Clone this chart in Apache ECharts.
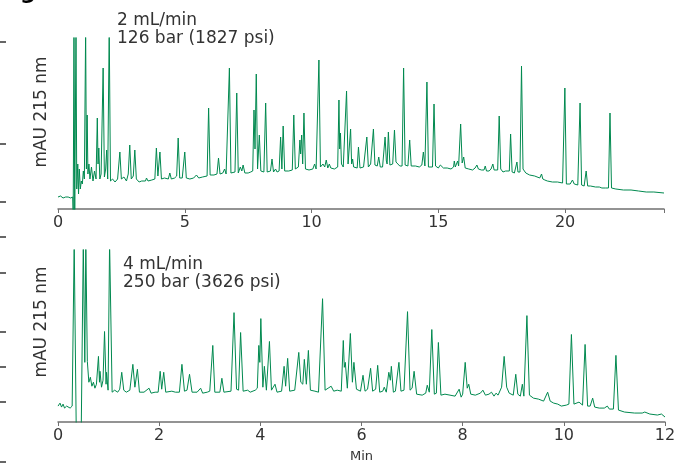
<!DOCTYPE html>
<html><head><meta charset="utf-8">
<script src="https://cdn.jsdelivr.net/npm/echarts@6/dist/echarts.min.js"></script>
<style>html,body{margin:0;padding:0;background:#fff}#c{width:679px;height:464px}</style>
</head><body><div id="c"></div>
<script>
// Top chromatogram (2 mL/min), [time (min), signal]
const topTrace = [[0,12],[0.1,13],[0.2,11],[0.3,12],[0.4,12],[0.5,11],[0.58,12],
[0.6,-5],[0.63,180],[0.66,-5],[0.69,-5],[0.71,180],[0.74,20],[0.78,45],[0.81,15],[0.84,40],[0.88,20],[0.92,28],[0.96,25],[1.0,38],[1.04,30],
[1.09,180],[1.12,40],[1.15,94],[1.18,35],[1.22,45],[1.26,30],[1.32,42],[1.38,28],[1.44,38],[1.5,30],
[1.55,91],[1.58,45],[1.61,61],[1.65,30],[1.7,35],[1.78,141],[1.83,32],[1.88,40],[1.92,59],[1.96,30],
[2.02,180],[2.07,28],[2.15,30],[2.25,27],[2.35,30],[2.44,57],[2.5,30],[2.6,32],[2.7,28],[2.77,35],[2.83,64],[2.89,30],[2.97,33],[3.03,59],[3.09,30],[3.2,27],[3.3,28],[3.45,28],[3.49,31],[3.55,28],[3.7,29],[3.82,30],[3.88,61],[3.94,33],[4.02,57],[4.08,30],[4.2,31],[4.35,30],[4.41,36],[4.47,30],[4.6,31],[4.68,33],[4.74,71],[4.8,31],[4.9,31],[5.0,57],[5.06,31],[5.2,30],[5.35,31],[5.46,34],[5.55,31],[5.7,32],[5.88,33],[5.94,101],[6.0,34],[6.15,34],[6.27,35],[6.33,51],[6.39,35],[6.5,36],[6.57,40],[6.63,35],[6.7,36],[6.76,141],[6.82,36],[6.98,37],[7.05,116],[7.11,36],[7.19,42],[7.25,38],[7.3,44],[7.37,36],[7.5,36],[7.6,37],[7.68,38],[7.73,99],[7.77,60],[7.82,135],[7.87,40],[7.94,74],[8.0,38],[8.12,37],[8.19,106],[8.25,37],[8.38,38],[8.44,50],[8.5,37],[8.58,40],[8.64,37],[8.72,38],[8.78,72],[8.83,40],[8.88,83],[8.94,38],[9.1,38],[9.24,39],[9.30,94],[9.36,40],[9.48,42],[9.54,69],[9.57,55],[9.61,74],[9.65,45],[9.70,96],[9.76,40],[9.9,39],[10.05,40],[10.12,45],[10.18,40],[10.23,41],[10.29,149],[10.35,42],[10.45,45],[10.52,42],[10.58,49],[10.64,41],[10.7,45],[10.76,41],[10.9,40],[11.03,42],[11.08,109],[11.11,60],[11.14,76],[11.18,45],[11.25,42],[11.32,43],[11.38,118],[11.44,45],[11.5,43],[11.54,80],[11.58,45],[11.62,50],[11.66,42],[11.8,41],[11.85,62],[11.91,41],[12.05,42],[12.12,44],[12.18,72],[12.24,42],[12.33,45],[12.37,46],[12.44,80],[12.5,44],[12.59,43],[12.65,52],[12.71,42],[12.8,42],[12.85,44],[12.90,72],[12.95,48],[12.98,45],[13.03,77],[13.09,44],[13.2,45],[13.27,79],[13.33,47],[13.4,45],[13.48,43],[13.57,43],[13.63,141],[13.69,44],[13.8,43],[13.87,69],[13.93,43],[14.1,43],[14.25,42],[14.35,44],[14.41,57],[14.47,43],[14.55,127],[14.61,42],[14.77,42],[14.83,105],[14.89,43],[15.0,41],[15.08,44],[15.2,41],[15.35,41],[15.5,40],[15.6,42],[15.63,48],[15.67,42],[15.74,43],[15.76,48],[15.8,43],[15.88,85],[15.94,46],[16.0,52],[16.06,41],[16.2,40],[16.35,39],[16.45,41],[16.52,44],[16.58,40],[16.7,39],[16.8,39],[16.85,43],[16.9,38],[17.0,38],[17.08,40],[17.15,45],[17.2,39],[17.34,39],[17.40,93],[17.46,40],[17.55,37],[17.65,38],[17.8,38],[17.85,75],[17.91,37],[18.0,36],[18.06,38],[18.10,47],[18.14,37],[18.22,37],[18.28,143],[18.34,40],[18.45,36],[18.6,34],[18.8,33],[19.0,31],[19.07,35],[19.12,30],[19.2,29],[19.24,31],[19.3,28],[19.5,27],[19.7,27],[19.9,26],[19.99,121],[20.05,25],[20.2,25],[20.29,29],[20.36,25],[20.5,24],[20.59,106],[20.65,24],[20.75,23],[20.83,38],[20.89,23],[21.0,23],[21.2,22],[21.35,22],[21.4,24],[21.45,21],[21.6,21],[21.71,21],[21.77,96],[21.83,21],[22.0,20],[22.3,19],[22.6,19],[22.9,18],[23.2,17],[23.5,17],[23.9,16]];

// Bottom chromatogram (4 mL/min), [time (min), signal]
const bottomTrace = [[0,16],[0.04,19],[0.07,15],[0.1,18],[0.13,14],[0.17,16],[0.2,18],[0.24,14],[0.28,16],[0.31,17],
[0.32,180],[0.36,-5],[0.46,-5],[0.5,180],[0.53,60],[0.55,180],[0.58,61],[0.61,40],[0.64,45],[0.67,36],[0.7,40],[0.73,34],[0.76,38],[0.8,66],[0.82,40],[0.83,51],[0.86,35],[0.89,42],[0.92,91],[0.95,38],[0.96,50],[0.99,32],
[1.02,180],[1.04,180],[1.07,30],[1.12,32],[1.18,30],[1.22,33],[1.26,50],[1.3,32],[1.35,30],[1.42,32],[1.48,58],[1.52,35],[1.57,53],[1.61,30],[1.7,30],[1.8,34],[1.84,29],[1.92,30],[1.98,30],[2.02,51],[2.05,33],[2.09,50],[2.13,30],[2.25,31],[2.32,30],[2.4,30],[2.45,58],[2.5,31],[2.55,32],[2.6,48],[2.65,30],[2.75,30],[2.82,34],[2.86,29],[2.95,30],[3.0,31],[3.06,77],[3.1,30],[3.2,30],[3.24,44],[3.28,30],[3.42,31],[3.48,110],[3.53,33],[3.57,32],[3.61,90],[3.66,31],[3.75,32],[3.8,30],[3.9,32],[3.94,34],[3.97,77],[3.99,60],[4.01,104],[4.05,35],[4.08,56],[4.12,32],[4.18,81],[4.22,32],[4.29,38],[4.33,30],[4.42,31],[4.47,56],[4.5,36],[4.54,64],[4.58,31],[4.68,32],[4.76,70],[4.8,40],[4.84,38],[4.87,63],[4.91,38],[4.95,72],[4.99,32],[5.08,31],[5.15,30],[5.23,124],[5.28,32],[5.34,34],[5.4,36],[5.45,31],[5.52,32],[5.6,31],[5.64,82],[5.66,55],[5.68,60],[5.72,34],[5.78,89],[5.82,40],[5.85,60],[5.9,33],[5.98,31],[6.03,47],[6.07,31],[6.12,33],[6.18,54],[6.22,31],[6.28,33],[6.32,57],[6.36,30],[6.42,31],[6.45,35],[6.49,30],[6.54,50],[6.57,42],[6.59,56],[6.63,30],[6.67,31],[6.74,60],[6.78,31],[6.84,32],[6.91,111],[6.96,32],[7.0,34],[7.04,51],[7.09,28],[7.2,27],[7.27,29],[7.30,37],[7.34,30],[7.39,93],[7.44,28],[7.48,29],[7.52,80],[7.57,27],[7.65,28],[7.75,27],[7.85,26],[7.93,33],[7.97,25],[8.0,28],[8.05,60],[8.09,34],[8.12,38],[8.16,28],[8.25,27],[8.35,29],[8.4,32],[8.45,27],[8.52,28],[8.57,30],[8.62,26],[8.66,29],[8.7,27],[8.77,35],[8.82,66],[8.87,35],[8.92,29],[9.0,27],[9.05,48],[9.09,28],[9.14,26],[9.18,38],[9.21,26],[9.27,107],[9.32,27],[9.4,24],[9.5,23],[9.6,21],[9.68,30],[9.73,21],[9.8,19],[9.88,18],[9.95,16],[10.05,17],[10.1,18],[10.15,88],[10.2,18],[10.3,20],[10.33,18],[10.37,17],[10.42,78],[10.47,16],[10.52,16],[10.57,24],[10.61,15],[10.7,14],[10.8,14],[10.86,16],[10.9,13],[10.98,13],[11.03,67],[11.08,12],[11.2,10],[11.4,9],[11.55,9],[11.6,10],[11.7,8],[11.85,7],[11.93,8],[12,5]];

const topTicks = [0, 5, 10, 15, 20];
const bottomTicks = [0, 2, 4, 6, 8, 10, 12];
const topNote = ['2 mL/min', '126 bar (1827 psi)'];
const bottomNote = ['4 mL/min', '250 bar (3626 psi)'];
const yLabel = 'mAU 215 nm';
const xLabel = 'Min';
const edgeTickY = [42, 144, 202, 237, 273, 332, 367, 402, 462];

const FONT = '"DejaVu Sans", Verdana, sans-serif';
const GREEN = '#00894f';
const chart = echarts.init(document.getElementById('c'), null, {renderer: 'canvas'});

function xAxisCfg(gi, max, interval, ticks, name) {
  return {
    type: 'value', gridIndex: gi, min: 0, max: max, interval: interval,
    name: name || '', nameLocation: 'middle', nameGap: 28,
    nameTextStyle: {fontFamily: FONT, fontSize: 13, color: '#333'},
    axisLine: {show: true, onZero: false, lineStyle: {color: '#707070', width: 1.5}},
    axisTick: {show: true, length: 4, lineStyle: {color: '#707070'}},
    splitLine: {show: false},
    axisLabel: {margin: 6, fontFamily: FONT, fontSize: 16, color: '#333',
      formatter: v => ticks.indexOf(v) >= 0 ? String(v) : ''}
  };
}

const graphics = [];
edgeTickY.forEach(y => graphics.push({type: 'line', shape: {x1: 0, y1: y, x2: 6, y2: y}, style: {stroke: '#333', lineWidth: 1.5}}));
graphics.push({type: 'text', x: 20, y: 4, style: {text: 'g', font: 'bold 22px ' + FONT, fill: '#000', verticalAlign: 'bottom'}});
graphics.push({type: 'text', x: 42, y: 112, rotation: Math.PI / 2, style: {text: yLabel, font: '17px ' + FONT, fill: '#333', align: 'center', verticalAlign: 'middle'}});
graphics.push({type: 'text', x: 42, y: 322, rotation: Math.PI / 2, style: {text: yLabel, font: '17px ' + FONT, fill: '#333', align: 'center', verticalAlign: 'middle'}});
graphics.push({type: 'text', x: 117, y: 12, style: {text: topNote.join('\n'), font: '17px ' + FONT, lineHeight: 18, fill: '#333'}});
graphics.push({type: 'text', x: 123, y: 256, style: {text: bottomNote.join('\n'), font: '17px ' + FONT, lineHeight: 18, fill: '#333'}});

chart.setOption({
  animation: false,
  backgroundColor: '#fff',
  grid: [
    {left: 58, right: 15, top: 38, height: 171},
    {left: 58, right: 14, top: 250, height: 173}
  ],
  xAxis: [xAxisCfg(0, 23.9, 5, topTicks), xAxisCfg(1, 12, 2, bottomTicks, xLabel)],
  yAxis: [
    {type: 'value', gridIndex: 0, min: 0, max: 171, show: false},
    {type: 'value', gridIndex: 1, min: 0, max: 173, show: false}
  ],
  series: [
    {type: 'line', xAxisIndex: 0, yAxisIndex: 0, data: topTrace, showSymbol: false, clip: true,
      lineStyle: {color: GREEN, width: 1}},
    {type: 'line', xAxisIndex: 1, yAxisIndex: 1, data: bottomTrace, showSymbol: false, clip: true,
      lineStyle: {color: GREEN, width: 1}}
  ],
  graphic: graphics
});
</script>
</body></html>
